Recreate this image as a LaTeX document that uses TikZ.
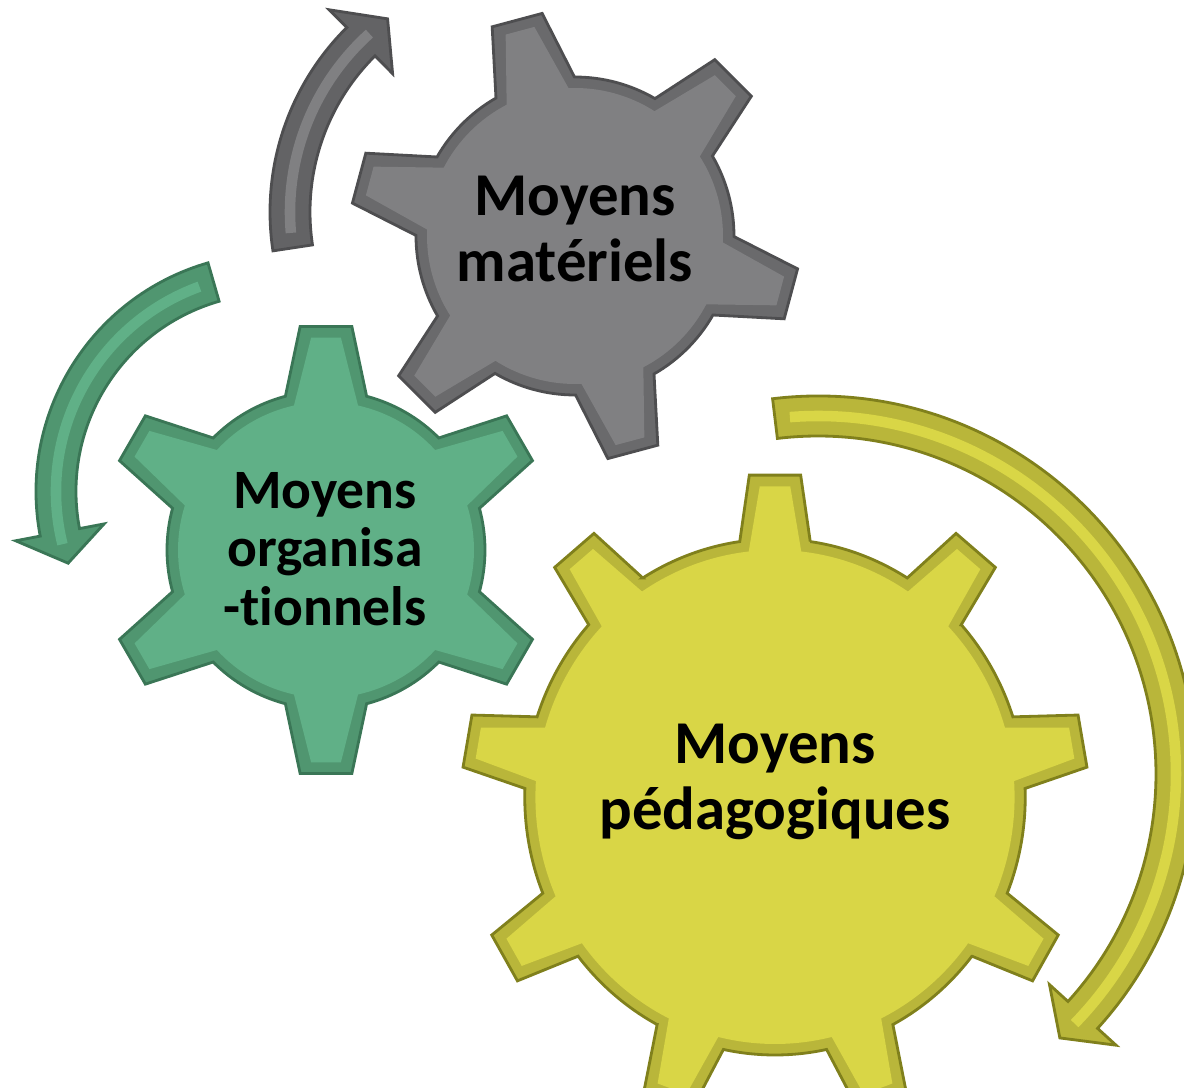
\documentclass[tikz,border=0pt]{standalone}
\usepackage{fontspec}
\setmainfont{Carlito}[Ligatures=NoCommon]
\definecolor{grayband}{RGB}{106,106,108}
\definecolor{grayfill}{RGB}{128,128,130}
\definecolor{grayline}{RGB}{78,78,80}
\definecolor{greenband}{RGB}{80,150,112}
\definecolor{greenfill}{RGB}{96,176,135}
\definecolor{greenline}{RGB}{58,118,86}
\definecolor{yellowband}{RGB}{185,182,58}
\definecolor{yellowfill}{RGB}{217,214,70}
\definecolor{yellowline}{RGB}{128,128,28}
% gear: teeth, outer r, base r, tip half angle, base half angle, first tooth
\newcommand\gearpath[6]{({#6-#5}:#3)
  \foreach \i [evaluate=\i as \a using {#6+360/#1*(\i-1)}] in {1,...,#1}
  { -- ({\a-#5}:#3) -- ({\a-#4}:#2) -- ({\a+#4}:#2) -- ({\a+#5}:#3)
    arc[start angle={\a+#5}, end angle={\a+360/#1-#5}, radius=#3] } -- cycle}
% round arrow: radius, start, head base, tip
\newcommand\arrowpath[4]{({#2}:{#1+20})
  arc[start angle=#2, end angle=#3, radius={#1+20}]
  -- ({#3}:{#1+45}) -- ({#4}:#1) -- ({#3}:{#1-45}) -- ({#3}:{#1-20})
  arc[start angle=#3, end angle=#2, radius={#1-20}] -- cycle}
\begin{document}
\begin{tikzpicture}[x=0.01cm,y=0.01cm,
  gearlabel/.style={align=center,inner sep=0pt,text=black},
  stripe/.style={line width=3pt}]
\useasboundingbox (0,0) rectangle (1184,1087);
% gears
\begin{scope}[shift={(575,851)}]
\filldraw[fill=grayband,draw=grayline,line width=0.8pt] \gearpath{6}{225}{159}{6.6}{14.8}{-15};
\fill[grayfill] \gearpath{6}{213}{148}{4.0}{12.5}{-15};
\end{scope}
\begin{scope}[shift={(326,537)}]
\filldraw[fill=greenband,draw=greenline,line width=0.8pt] \gearpath{6}{225}{159}{6.6}{14.8}{30};
\fill[greenfill] \gearpath{6}{213}{148}{4.0}{12.5}{30};
\end{scope}
\begin{scope}[shift={(775,290)},xscale=0.97]
\filldraw[fill=yellowband,draw=yellowline,line width=0.8pt] \gearpath{9}{323}{258}{4.7}{8.1}{10};
\fill[yellowfill] \gearpath{9}{311}{247}{2.9}{6.3}{10};
\end{scope}
% arrows
\begin{scope}[shift={(530,875)}]
\filldraw[fill=grayband!105,draw=grayline,line width=0.8pt] \arrowpath{240}{188.6}{134.8}{126.4};
\draw[stripe,grayfill] (185:240) arc[start angle=185, end angle=132, radius=240];
\end{scope}
\begin{scope}[shift={(274,595.5)}]
\filldraw[fill=greenband,draw=greenline,line width=0.8pt] \arrowpath{218}{106.1}{190.8}{199.2};
\draw[stripe,greenfill] (110:218) arc[start angle=110, end angle=194, radius=218];
\end{scope}
\begin{scope}[shift={(818,313)}]
\filldraw[fill=yellowband,draw=yellowline,line width=0.8pt] \arrowpath{358}{96.9}{-42.3}{-47.5};
\draw[stripe,yellowfill] (94.5:358) arc[start angle=94.5, end angle=-44.2, radius=358];
\end{scope}
% labels
\node[gearlabel,font=\bfseries\fontsize{17.3}{18.6}\selectfont] (mat) at (575,858) {Moyens\\matériels};
\node[gearlabel,font=\bfseries\fontsize{15.8}{16.6}\selectfont] (org) at (325,538) {Moyens\\organisa\\-tionnels};
\node[gearlabel,font=\bfseries\fontsize{17.3}{18.6}\selectfont] (ped) at (775,305) {Moyens\\pédagogiques};
\end{tikzpicture}
\end{document}
